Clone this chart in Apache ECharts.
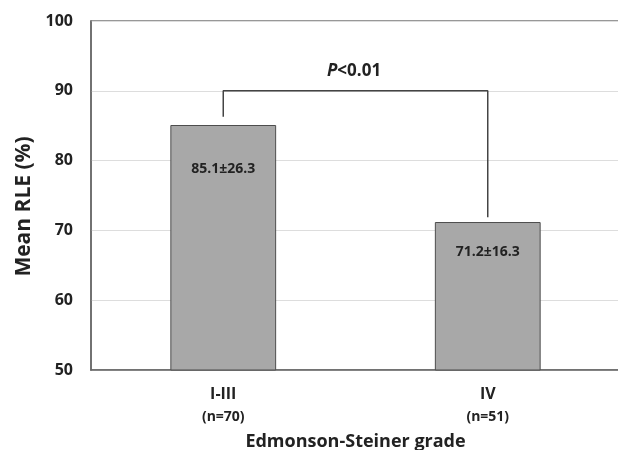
<!DOCTYPE html>
<html>
<head>
<meta charset="utf-8">
<script src="https://cdn.jsdelivr.net/npm/echarts@6/dist/echarts.min.js"></script>
<style>
  html, body { margin: 0; padding: 0; background: #fff; }
  #chart { width: 618px; height: 450px; }
</style>
</head>
<body>
<div id="chart"></div>
<script>
// 数据
const grades = ['I-III', 'IV'];
const groupSizes = ['(n=70)', '(n=51)'];
const meanRLE = [85.1, 71.2];
const sdRLE = [26.3, 16.3];
// 显著性括号：左端、顶部、右端
const bracketLeft = 86.3;
const bracketTop = 90;
const bracketRight = 71.9;
const pText = '<0.01';

const FONT = '"Open Sans", "Noto Sans", sans-serif';
const labelDistance = [37, 23]; // 柱内标签离顶部的距离

const chart = echarts.init(document.getElementById('chart'));

const option = {
  animation: false,
  backgroundColor: '#fff',
  title: {
    text: '{i|P}{n|' + pText + '}',
    left: 322,
    top: 58,
    textStyle: {
      rich: {
        i: { fontFamily: FONT, fontSize: 17, fontWeight: 'bold', fontStyle: 'italic', color: '#222' },
        n: { fontFamily: FONT, fontSize: 17, fontWeight: 'bold', color: '#222' }
      }
    }
  },
  grid: {
    left: 91,
    right: -2,
    top: 21,
    bottom: 80,
    outerBoundsMode: 'none',
    show: true,
    borderColor: '#777',
    borderWidth: 1.5
  },
  xAxis: {
    type: 'category',
    data: grades,
    name: 'Edmonson-Steiner grade',
    nameLocation: 'middle',
    nameGap: 63,
    nameTextStyle: { fontFamily: FONT, fontSize: 18, fontWeight: 'bold', color: '#222' },
    axisLine: { lineStyle: { color: '#666', width: 1.5 } },
    axisTick: { show: false },
    axisLabel: {
      margin: 13,
      formatter: (v, i) => '{a|' + v + '}\n{b|' + groupSizes[i] + '}',
      rich: {
        a: { fontFamily: FONT, fontSize: 16, fontWeight: 'bold', color: '#222', lineHeight: 22 },
        b: { fontFamily: FONT, fontSize: 14, fontWeight: 'bold', color: '#222', lineHeight: 24 }
      }
    }
  },
  yAxis: {
    type: 'value',
    min: 50,
    max: 100,
    interval: 10,
    name: 'Mean RLE (%)',
    nameLocation: 'middle',
    nameGap: 56,
    nameTextStyle: { fontFamily: FONT, fontSize: 21, fontWeight: 'bold', color: '#222', padding: [0, 22, 0, 0] },
    axisLine: { show: true, lineStyle: { color: '#666', width: 1.5 } },
    axisTick: { show: false },
    axisLabel: { margin: 18, fontFamily: FONT, fontSize: 16, fontWeight: 'bold', color: '#222' },
    splitLine: { lineStyle: { color: '#ddd', width: 1 } }
  },
  series: [
    {
      type: 'bar',
      barWidth: '40%',
      data: meanRLE.map((v, i) => ({
        value: v,
        label: { distance: labelDistance[i] }
      })),
      itemStyle: { color: '#a8a8a8', borderColor: '#4d4d4d', borderWidth: 1 },
      label: {
        show: true,
        position: 'insideTop',
        formatter: p => meanRLE[p.dataIndex].toFixed(1) + '±' + sdRLE[p.dataIndex].toFixed(1),
        fontFamily: FONT,
        fontSize: 14,
        fontWeight: 'bold',
        color: '#222'
      }
    },
    {
      // 显著性括号
      type: 'line',
      data: [[0, bracketLeft], [0, bracketTop], [1, bracketTop], [1, bracketRight]],
      symbol: 'none',
      lineStyle: { color: '#444', width: 1.5 },
      silent: true
    }
  ]
};

chart.setOption(option);
</script>
</body>
</html>
